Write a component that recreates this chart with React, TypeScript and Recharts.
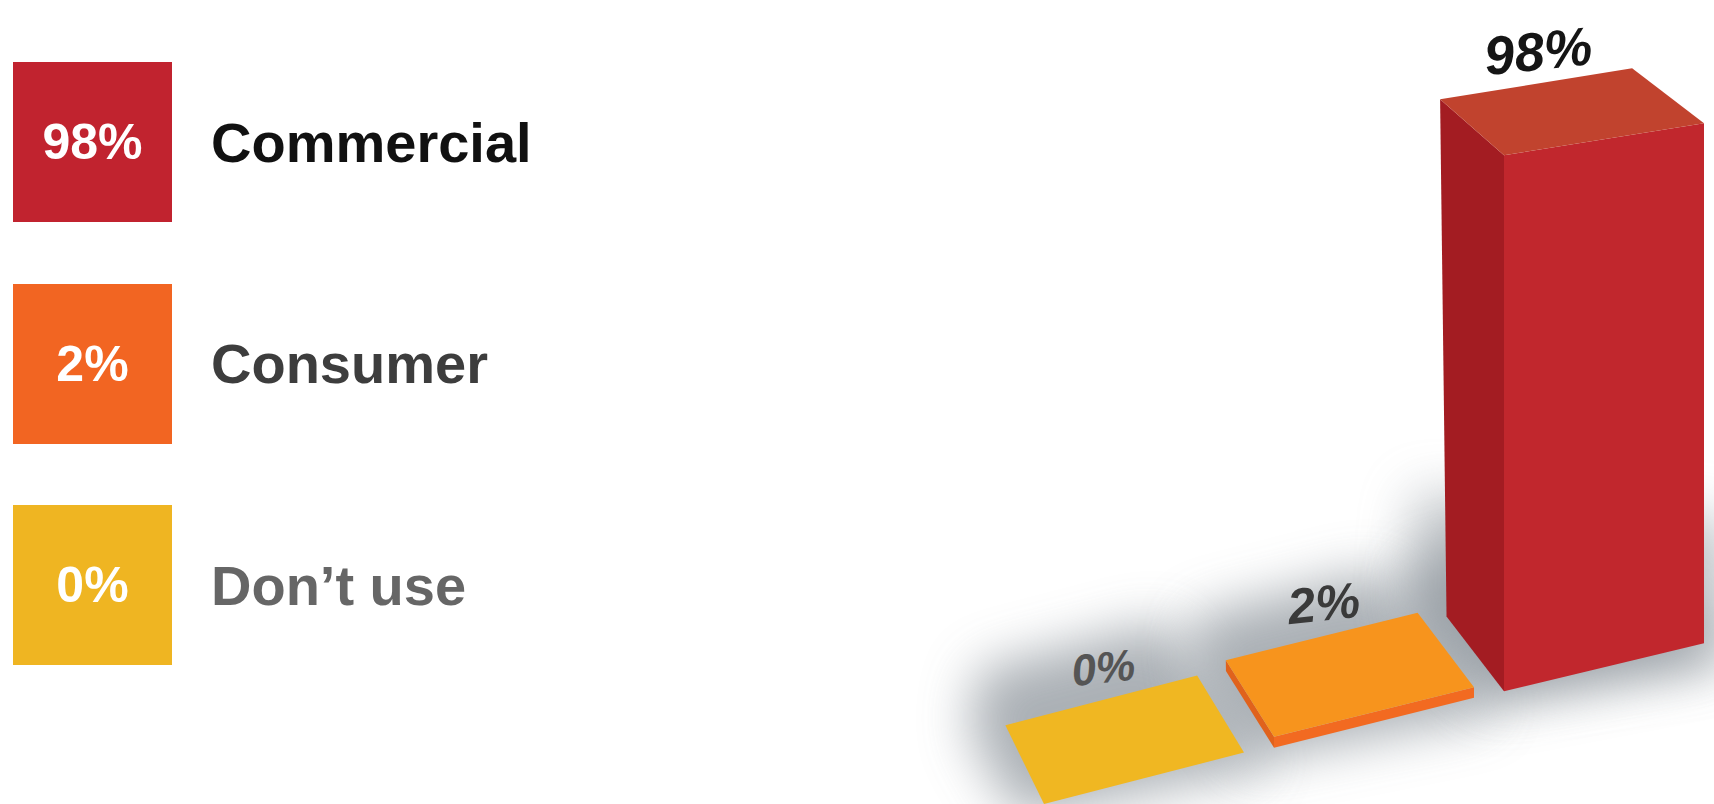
import { BarChart, Bar, XAxis, YAxis, LabelList } from "recharts";

const CATEGORIES = ["Commercial", "Consumer", "Don’t use"];
const SHARES = [98, 2, 0];

const SWATCH = ["#c1232f", "#f26522", "#efb522"];
const NAME_COLOR = ["#111111", "#3d3d3d", "#666666"];
// faces of each block: top, front, left side
const TOP = ["#c1432e", "#f7941d", "#f0b722"];
const FRONT = ["#c1272d", "#f26a21", "#e9aa1e"];
const SIDE = ["#a31c22", "#e0621c", "#d99c1a"];
const LABEL_SIZE = [54, 50, 44];
const LABEL_COLOR = ["#151515", "#3a3a3a", "#555555"];

// slide shows the smallest share in front, on the left
const chartData = CATEGORIES.map((name, i) => ({ name, value: SHARES[i], idx: i })).reverse();

const FONT = '"Liberation Sans", Arial, sans-serif';

// fake perspective: the row of blocks climbs to the right
const ORIGIN_X = 1044;
const ROW_RISE = 0.245;

type Pt = [number, number];

function project(barX: number, px: number, py: number): Pt {
  const ry = py - ROW_RISE * (barX - ORIGIN_X);
  // horizontal edges get flatter towards the top of the picture
  const faceRise = 0.16 + 0.00015 * (ry - 155);
  return [px, ry - faceRise * (px - barX)];
}

// receding edge, a bit steeper low down and further left
function back(p: Pt, k = 1): Pt {
  const dx = 40 + 0.038 * (p[0] - ORIGIN_X) + 0.012 * (690 - p[1]);
  const dy = 56 + 0.035 * (p[1] - 155);
  return [p[0] - dx * k, p[1] - dy * k];
}

const pts = (list: Pt[]) => list.map((p) => p.join(",")).join(" ");
const shift = (p: Pt, dx: number, dy: number): Pt => [p[0] + dx, p[1] + dy];

function FloorShadow(props: any) {
  const { x, y, width, height } = props;
  const base = y + height;
  const fbl = project(x, x, base);
  const fbr = project(x, x + width, base);
  const floor = (
    <polygon
      points={pts([
        shift(fbl, -25, 14),
        shift(fbr, 25, 14),
        back(fbr, 1.7),
        back(fbl, 1.7),
        shift(back(fbl, 0.9), -40, 0),
      ])}
      fill="#8f969d"
      opacity={0.75}
      filter="url(#soft)"
    />
  );
  if (height < 40) return floor;
  const lowY = base - height * 0.24;
  const ml = back(project(x, x, lowY));
  const mr = project(x, x + width, lowY);
  return (
    <g>
      {floor}
      <polygon
        points={pts([
          shift(back(fbl), -40, 10),
          shift(ml, -30, 0),
          shift(mr, 25, 0),
          shift(fbr, 25, 15),
          fbl,
        ])}
        fill="#8f969d"
        opacity={0.55}
        filter="url(#soft)"
      />
    </g>
  );
}

function Block(props: any) {
  const { x, y, width, height, payload } = props;
  const i = payload.idx;
  const base = y + height;
  const fbl = project(x, x, base);
  const fbr = project(x, x + width, base);
  const ftl = project(x, x, y);
  const ftr = project(x, x + width, y);
  const btl = back(ftl);
  const btr = back(ftr);
  const bbl = back(fbl);
  return (
    <g>
      <polygon points={pts([btl, ftl, fbl, bbl])} fill={SIDE[i]} />
      <polygon points={pts([ftl, ftr, fbr, fbl])} fill={FRONT[i]} />
      <polygon points={pts([btl, btr, ftr, ftl])} fill={TOP[i]} />
    </g>
  );
}

function ValueLabel(props: any) {
  const { x, y, width, value, index } = props;
  const i = chartData[index].idx;
  const mid = back(project(x, x + width / 2, y));
  const cx = mid[0] + 2;
  const cy = mid[1] - 33;
  return (
    <text
      x={cx}
      y={cy}
      textAnchor="middle"
      dominantBaseline="central"
      fontFamily={FONT}
      fontWeight="bold"
      fontStyle="italic"
      fontSize={LABEL_SIZE[i]}
      fill={LABEL_COLOR[i]}
      transform={`rotate(-6 ${cx} ${cy})`}
    >
      {`${value}%`}
    </text>
  );
}

function LegendRows() {
  return (
    <div style={{ position: "absolute", left: 13, top: 62 }}>
      {CATEGORIES.map((name, i) => (
        <div key={name} style={{ display: "flex", alignItems: "center", height: 160, marginBottom: 61.5 }}>
          <div
            style={{
              width: 159,
              height: 160,
              background: SWATCH[i],
              color: "#ffffff",
              fontFamily: FONT,
              fontWeight: "bold",
              fontSize: 50,
              display: "flex",
              alignItems: "center",
              justifyContent: "center",
            }}
          >
            {SHARES[i]}%
          </div>
          <div
            style={{
              marginLeft: 39,
              fontFamily: FONT,
              fontWeight: "bold",
              fontSize: 56,
              color: NAME_COLOR[i],
              whiteSpace: "nowrap",
            }}
          >
            {name}
          </div>
        </div>
      ))}
    </div>
  );
}

export default function App() {
  return (
    <div
      style={{
        position: "absolute",
        left: 0,
        top: 0,
        width: 1714,
        height: 804,
        overflow: "hidden",
        background: "#ffffff",
      }}
    >
      <div style={{ position: "absolute", left: 0, top: 0 }}>
        <BarChart
          width={1760}
          height={804}
          data={chartData}
          margin={{ top: 257, right: 41, left: 1029, bottom: 0 }}
          barSize={200}
        >
          <defs>
            <filter id="soft" x="-60%" y="-60%" width="220%" height="220%">
              <feGaussianBlur stdDeviation="26" />
            </filter>
          </defs>
          <XAxis dataKey="name" hide />
          <XAxis dataKey="name" xAxisId="floor" hide />
          <YAxis hide domain={[0, 100]} />
          <Bar dataKey="value" xAxisId="floor" shape={FloorShadow} isAnimationActive={false} />
          <Bar dataKey="value" shape={Block} isAnimationActive={false}>
            <LabelList dataKey="value" content={ValueLabel} />
          </Bar>
        </BarChart>
      </div>
      <LegendRows />
    </div>
  );
}
